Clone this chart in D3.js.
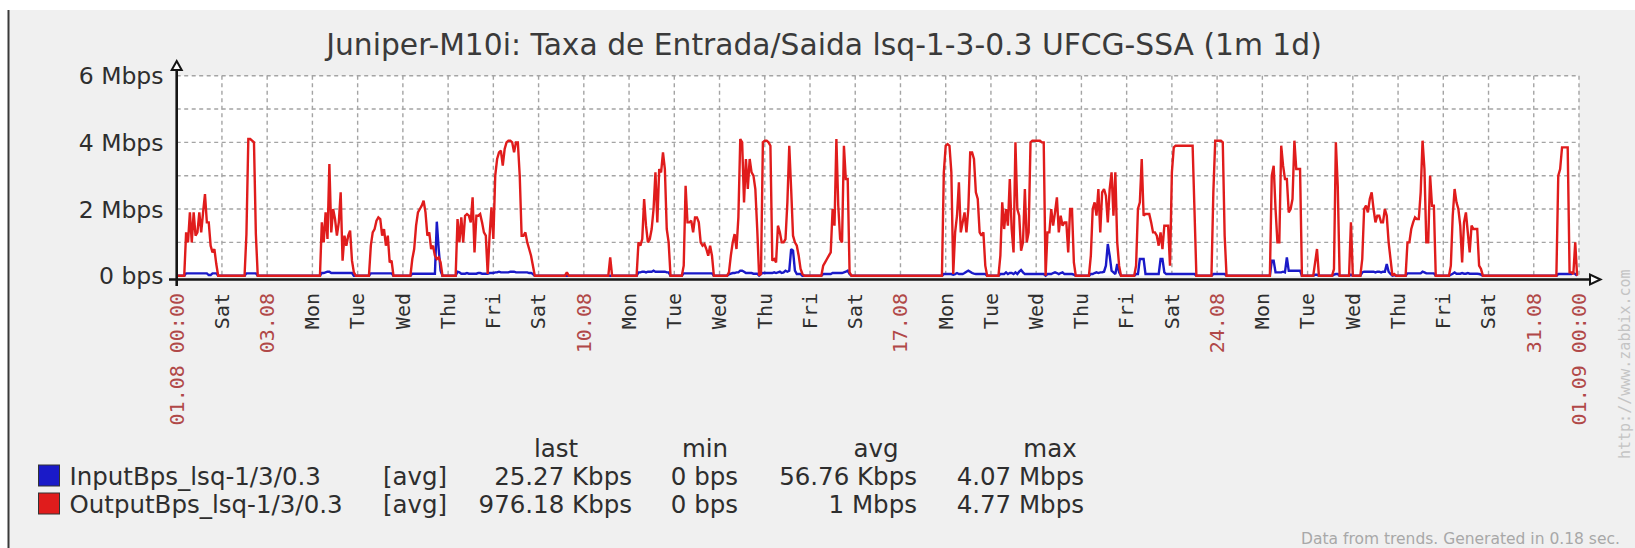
<!DOCTYPE html>
<html><head><meta charset="utf-8">
<script src="https://cdn.jsdelivr.net/npm/d3@7"></script>
<style>body{margin:0;background:#fff;overflow:hidden}svg{display:block}</style>
</head><body><svg id="c" width="1635" height="548"></svg>
<script>
const titleText = "Juniper-M10i: Taxa de Entrada/Saida lsq-1-3-0.3 UFCG-SSA (1m 1d)";
const tickLabels = ["01.08 00:00","Sat","03.08","Mon","Tue","Wed","Thu","Fri","Sat","10.08","Mon","Tue","Wed","Thu","Fri","Sat","17.08","Mon","Tue","Wed","Thu","Fri","Sat","24.08","Mon","Tue","Wed","Thu","Fri","Sat","31.08","01.09 00:00"];
const yTickValues = [0, 2, 4, 6];
const yTickLabels = ["0 bps", "2 Mbps", "4 Mbps", "6 Mbps"];
const seriesNames = ["InputBps_lsq-1/3/0.3", "OutputBps_lsq-1/3/0.3"];
const seriesFunc = ["[avg]", "[avg]"];
const statHeaders = ["last", "min", "avg", "max"];
const statLast = ["25.27 Kbps", "976.18 Kbps"];
const statMin = ["0 bps", "0 bps"];
const statAvg = ["56.76 Kbps", "1 Mbps"];
const statMax = ["4.07 Mbps", "4.77 Mbps"];
const footerText = "Data from trends. Generated in 0.18 sec.";
const watermarkText = "http://www.zabbix.com";

// hourly values in Mbps, one row per day (01.08 .. 31.08)
const outputMbps = [
[0,0,0,0,0,1.3,1.0,1.9,1.0,1.9,1.2,1.3,1.9,1.3,1.9,2.45,1.6,1.6,0.9,0.7,0.8,0.35,0,0],
[0,0,0,0,0,0,0,0,0,0,0,0,0,1.25,4.1,4.1,4.05,4.0,1.25,0,0,0,0,0],
[0,0,0,0,0,0,0,0,0,0,0,0,0,0,0,0,0,0,0,0,0,0,0,0],
[0,0,0,0,0,1.6,1.0,1.9,1.1,3.35,1.3,2.0,1.7,1.2,1.6,2.5,0.45,1.2,0.9,1.2,1.35,0.45,0.1,0],
[0,0,0,0,0,0,0,0.9,1.3,1.4,1.65,1.75,1.7,1.2,1.4,0.9,1.2,0.4,0.45,0,0,0,0,0],
[0,0,0,0,0,0.5,0.8,1.5,1.9,2.0,2.1,2.25,1.9,1.2,1.3,0.8,0.9,0.6,0.5,0.55,0.4,0,0,0],
[0,0,0,0,0,1.7,1.0,1.75,1.0,1.8,1.85,1.8,1.6,2.35,0.7,1.8,1.8,1.85,1.6,1.3,1.2,0.05,1.2,2.05],
[1.1,3.0,3.5,3.7,3.75,3.3,3.8,4.0,4.05,4.05,4.0,3.7,4.0,4.0,3.0,1.2,1.2,1.3,1.0,0.8,0.6,0.3,0,0],
[0,0,0,0,0,0,0,0,0,0,0,0,0,0,0,0.1,0,0,0,0,0,0,0,0],
[0,0,0,0,0,0,0,0,0,0,0,0,0,0,0.55,0,0,0,0,0,0,0,0,0],
[0,0,0,0,0,1.0,0.9,1.1,2.3,1.5,1.0,1.1,1.4,2.0,3.1,1.6,3.2,3.1,3.7,3.2,1.4,1.0,0,0],
[0,0,0,0,0,0.3,2.7,1.6,1.6,1.65,1.3,1.75,1.75,1.6,1.0,0.9,0.95,0.8,0.6,0.9,0.6,0,0,0],
[0,0,0,0,0,0.1,0.6,1.0,1.25,0.8,1.75,4.1,4.0,2.2,3.5,2.6,3.5,3.1,3.0,2.6,1.4,0,0.05,4.0],
[4.05,4.05,4.0,3.9,0.45,0.5,0.4,1.5,1.3,1.0,1.0,1.1,2.2,3.9,2.6,1.2,1.0,0.9,0.6,0.2,0.05,0,0,0],
[0,0,0,0,0,0,0,0.3,0.4,0.5,0.6,0.7,2.0,1.5,4.1,2.1,1.1,1.0,3.9,2.9,2.9,0.1,0,0],
[0,0,0,0,0,0,0,0,0,0,0,0,0,0,0,0,0,0,0,0,0,0,0,0],
[0,0,0,0,0,0,0,0,0,0,0,0,0,0,0,0,0,0,0,0,0,0,0,3.1],
[3.9,3.95,3.9,3.1,0.05,1.3,1.8,2.8,1.3,1.6,1.9,1.3,2.0,3.7,3.7,3.5,2.5,2.3,1.3,1.2,1.3,0.3,0,0],
[0,0,0,0,0,0.6,2.2,1.4,2.0,1.5,2.9,1.4,0.7,4.0,2.0,1.8,0.75,1.0,2.6,1.0,1.3,4.0,4.05,4.05],
[4.05,4.05,4.05,4.0,4.0,0,1.3,1.3,2.0,1.5,1.9,2.35,1.3,1.8,1.5,1.6,1.6,0.7,2.0,2.0,0.4,0,0,0],
[0,0,0,0,0,0.6,2.0,2.2,1.8,2.6,1.3,2.5,2.6,2.4,1.6,2.6,3.1,1.8,3.1,1.0,0.3,0,0,0],
[0,0,0,0,0,0.3,2.0,2.2,3.5,1.8,1.85,1.85,1.85,1.6,1.3,1.3,1.2,0.9,1.3,0.8,1.5,1.5,1.5,0.3],
[3.1,3.85,3.9,3.9,3.9,3.9,3.9,3.9,3.9,3.9,3.9,3.9,1.95,0,0,0,0,0,0,0,0,0,2.5,4.05],
[4.05,4.05,4.05,4.0,1.2,0,0,0,0,0,0,0,0,0,0,0,0,0,0,0,0,0,0,0],
[0,0,0,0,0,3.0,3.3,2.0,1.0,1.0,3.9,3.3,2.9,2.9,1.9,2.0,2.3,4.05,3.2,3.2,3.2,0,0,0],
[0,0,0,0,0.4,0.8,0,0,0,0,0,0,0,0,0.2,4.0,2.7,0,0,0,0,0,0,1.6],
[0,0,0,0,0,0.5,2.0,2.1,1.9,2.3,2.5,2.0,1.6,1.8,1.8,1.6,1.6,2.0,1.8,1.0,0.5,0,0.05,0],
[0,0,0,0,0,1.0,1.0,1.4,1.6,1.75,1.7,1.7,2.5,4.05,3.2,1.0,1.0,3.0,2.1,2.1,0,0,0,0],
[0,0,0,0,0.3,1.8,2.6,2.2,2.0,1.5,0.4,1.6,1.9,1.3,0.7,1.5,1.4,1.4,1.4,0.3,0.2,0,0,0],
[0,0,0,0,0,0,0,0,0,0,0,0,0,0,0,0,0,0,0,0,0,0,0,0],
[0,0,0,0,0,0,0,0,0,0,0,0,0,3.0,3.2,3.85,3.85,3.85,3.85,0.1,0.1,0.05,1.0,0]
];
const inputMbps = [
[0,0,0,0,0,0.07,0.07,0.07,0.07,0.07,0.07,0.07,0.07,0.07,0.07,0.07,0.07,0.02,0.02,0.07,0.07,0.07,0,0],
[0,0,0,0,0,0,0,0,0,0,0,0,0,0.07,0.07,0.07,0.07,0.07,0.07,0,0,0,0,0],
[0,0,0,0,0,0,0,0,0,0,0,0,0,0,0,0,0,0,0,0,0,0,0,0],
[0,0,0,0,0,0.08,0.08,0.1,0.12,0.12,0.08,0.08,0.08,0.08,0.08,0.08,0.08,0.08,0.08,0.08,0.08,0.08,0,0],
[0,0,0,0,0,0,0,0.07,0.07,0.07,0.07,0.07,0.07,0.07,0.07,0.07,0.07,0.07,0.07,0,0,0,0,0],
[0,0,0,0,0,0.06,0.06,0.06,0.06,0.06,0.06,0.06,0.06,0.06,0.06,0.06,0.06,0.06,1.62,0.8,0.15,0,0,0],
[0,0,0,0,0,0.12,0.1,0.06,0.06,0.06,0.08,0.06,0.06,0.06,0.06,0.06,0.08,0.08,0.06,0.06,0.06,0.06,0.08,0.08],
[0.08,0.1,0.1,0.12,0.1,0.1,0.1,0.1,0.1,0.12,0.12,0.12,0.1,0.1,0.1,0.1,0.1,0.1,0.1,0.08,0.08,0.05,0,0],
[0,0,0,0,0,0,0,0,0,0,0,0,0,0,0,0,0,0,0,0,0,0,0,0],
[0,0,0,0,0,0,0,0,0,0,0,0,0,0,0,0,0,0,0,0,0,0,0,0],
[0,0,0,0,0,0.1,0.1,0.12,0.12,0.1,0.12,0.12,0.12,0.15,0.12,0.12,0.12,0.12,0.12,0.12,0.1,0.1,0,0],
[0,0,0,0,0,0.07,0.07,0.07,0.07,0.07,0.07,0.07,0.07,0.07,0.07,0.07,0.07,0.07,0.07,0.07,0.07,0,0,0],
[0,0,0,0,0,0.04,0.06,0.08,0.08,0.1,0.1,0.15,0.15,0.12,0.08,0.08,0.08,0.08,0.06,0.06,0.06,0,0.05,0.08],
[0.08,0.08,0.08,0.08,0.08,0.1,0.08,0.1,0.12,0.08,0.1,0.15,0.12,0.15,0.8,0.75,0.15,0.05,0.05,0.05,0,0,0,0],
[0,0,0,0,0,0,0,0.05,0.05,0.05,0.05,0.05,0.08,0.08,0.08,0.08,0.08,0.08,0.1,0.12,0.15,0.05,0,0],
[0,0,0,0,0,0,0,0,0,0,0,0,0,0,0,0,0,0,0,0,0,0,0,0],
[0,0,0,0,0,0,0,0,0,0,0,0,0,0,0,0,0,0,0,0,0,0,0,0.05],
[0.05,0.05,0.05,0.05,0.03,0.05,0.08,0.05,0.05,0.05,0.08,0.12,0.15,0.12,0.08,0.06,0.05,0.05,0.05,0.05,0.05,0.05,0,0],
[0,0,0,0,0,0.05,0.05,0.05,0.1,0.05,0.08,0.08,0.05,0.1,0.05,0.12,0.17,0.1,0.05,0.05,0.05,0.05,0.05,0.05],
[0.05,0.05,0.05,0.05,0.05,0,0.05,0.05,0.05,0.08,0.1,0.08,0.05,0.08,0.1,0.05,0.05,0.05,0.05,0.05,0.03,0,0,0],
[0,0,0,0,0,0.05,0.05,0.08,0.1,0.08,0.1,0.1,0.12,0.3,0.95,0.6,0.15,0.1,0.05,0.35,0.1,0,0,0],
[0,0,0,0,0,0.05,0.05,0.5,0.5,0.5,0.05,0.05,0.05,0.05,0.05,0.05,0.05,0.05,0.5,0.5,0.1,0.05,0.05,0.05],
[0.05,0.05,0.05,0.05,0.05,0.05,0.05,0.05,0.05,0.05,0.05,0.05,0.05,0,0,0,0,0,0,0,0,0,0.05,0.05],
[0.05,0.05,0.05,0.05,0.05,0,0,0,0,0,0,0,0,0,0,0,0,0,0,0,0,0,0,0],
[0,0,0,0,0,0.45,0.45,0.1,0.1,0.1,0.1,0.12,0.1,0.55,0.15,0.15,0.15,0.15,0.15,0.15,0.15,0,0,0],
[0,0,0,0,0.03,0.03,0,0,0,0,0,0,0,0,0.03,0.05,0.05,0,0,0,0,0,0,0.03],
[0,0,0,0,0,0.1,0.12,0.12,0.12,0.12,0.12,0.12,0.1,0.12,0.12,0.1,0.12,0.12,0.35,0.12,0.05,0,0.02,0],
[0,0,0,0,0,0.07,0.07,0.07,0.07,0.07,0.07,0.07,0.07,0.12,0.1,0.07,0.07,0.07,0.07,0.07,0,0,0,0],
[0,0,0,0,0.03,0.06,0.1,0.06,0.06,0.06,0.08,0.06,0.06,0.08,0.06,0.06,0.06,0.06,0.06,0.05,0.03,0,0,0],
[0,0,0,0,0,0,0,0,0,0,0,0,0,0,0,0,0,0,0,0,0,0,0,0],
[0,0,0,0,0,0,0,0,0,0,0,0,0,0.05,0.05,0.05,0.05,0.05,0.05,0.05,0.05,0.08,0.05,0]
];

const colors = {input: "#1a1ac8", output: "#e01c1c"};
const startMs = Date.UTC(2014, 7, 1), endMs = Date.UTC(2014, 8, 1), HOUR = 3600e3;

const svg = d3.select("#c");
const W = 1635, H = 548;
const X0 = 176.7, X1 = 1579, YB = 275.7, YT = 75.7;
const x = d3.scaleUtc().domain([new Date(startMs), new Date(endMs)]).range([X0, X1]);
const y = d3.scaleLinear().domain([0, 6]).range([YB, YT]);

// background
svg.append("rect").attr("x",0).attr("y",0).attr("width",W).attr("height",H).attr("fill","#fff");
svg.append("rect").attr("x",9).attr("y",10).attr("width",W-9).attr("height",H-10).attr("fill","#f0f0f0");
svg.append("line").attr("x1",8.5).attr("x2",8.5).attr("y1",10).attr("y2",H).attr("stroke","#3a3a3a").attr("stroke-width",2);

// plot area
svg.append("rect").attr("x",X0).attr("y",YT).attr("width",X1-X0).attr("height",YB-YT).attr("fill","#fff");

// grid
const days = x.ticks(d3.utcDay.every(1));
const grid = svg.append("g").attr("stroke","#a4a4a4").attr("stroke-width",1.4).attr("stroke-dasharray","4,3.5");
grid.selectAll("line.v").data(days.slice(1)).join("line")
  .attr("x1",d=>x(d)).attr("x2",d=>x(d)).attr("y1",YT).attr("y2",YB);
grid.selectAll("line.h").data(d3.range(1,7)).join("line")
  .attr("x1",X0).attr("x2",X1).attr("y1",d=>y(d)).attr("y2",d=>y(d));

// series
const toPoints = rows => rows.flat().map((v,i)=>({t:new Date(startMs + i*HOUR), v}));
const line = d3.line().x(d=>x(d.t)).y(d=>y(d.v));
svg.append("clipPath").attr("id","pc").append("rect")
  .attr("x",X0).attr("y",YT-4).attr("width",X1-X0).attr("height",YB-YT+6);
const gs = svg.append("g").attr("clip-path","url(#pc)").attr("fill","none")
  .attr("stroke-linejoin","miter").attr("stroke-miterlimit",2);
gs.append("path").datum(toPoints(inputMbps)).attr("d",line)
  .attr("stroke",colors.input).attr("stroke-width",2.4);
gs.append("path").datum(toPoints(outputMbps)).attr("d",line)
  .attr("stroke",colors.output).attr("stroke-width",2.4);

// axes
const ax = svg.append("g").attr("stroke","#151515");
ax.append("line").attr("x1",X0).attr("x2",X0).attr("y1",69).attr("y2",286).attr("stroke-width",2.6);
ax.append("line").attr("x1",169).attr("x2",1590).attr("y1",279.5).attr("y2",279.5).attr("stroke-width",2.6);
ax.append("path").attr("d",`M${X0},61 L${X0+5},70 L${X0-5},70 Z`).attr("fill","#fff").attr("stroke-width",2);
ax.append("path").attr("d",`M1600.5,279.5 L1590,274.5 L1590,284.5 Z`).attr("fill","#fff").attr("stroke-width",2);

// y labels
svg.append("g").selectAll("text").data(yTickValues).join("text")
  .attr("x",163.5).attr("y",d=>y(d)+8.6).attr("text-anchor","end")
  .attr("font-family","DejaVu Sans").attr("font-size",23.5).attr("fill","#2e2e2e")
  .text((d,i)=>yTickLabels[i]);

// x labels
svg.append("g").selectAll("text").data(days).join("text")
  .attr("transform",d=>`translate(${x(d)+6.8},293) rotate(-90)`)
  .attr("text-anchor","end")
  .attr("font-family","DejaVu Sans Mono").attr("font-size",20)
  .attr("fill",(d,i)=>tickLabels[i].includes(".") ? "#b04848" : "#2e2e2e")
  .text((d,i)=>tickLabels[i]);

// title
const tt = svg.append("text").attr("x",824).attr("y",55).attr("text-anchor","middle")
  .attr("font-family","DejaVu Sans").attr("font-size",26).attr("fill","#3a3a3a").text(titleText);
const tw = tt.node().getComputedTextLength();
tt.attr("font-size", 26*996/tw);

// legend
const lg = svg.append("g").attr("font-family","DejaVu Sans").attr("font-size",24.5).attr("fill","#2e2e2e");
const rowsY = [485, 513];
const headX = [556, 705, 876, 1050];
lg.selectAll("text.h").data(statHeaders).join("text").attr("x",(d,i)=>headX[i]).attr("y",457)
  .attr("text-anchor","middle").text(d=>d);
const sc = [colors.input, colors.output];
seriesNames.forEach((nm,i)=>{
  lg.append("rect").attr("x",38.5).attr("y",rowsY[i]-20).attr("width",21).attr("height",21)
    .attr("fill",sc[i]).attr("stroke","#333").attr("stroke-width",1);
  lg.append("text").attr("x",69.5).attr("y",rowsY[i]).text(nm);
  lg.append("text").attr("x",383).attr("y",rowsY[i]).text(seriesFunc[i]);
  [[statLast,632],[statMin,738],[statAvg,917],[statMax,1084]].forEach(([arr,rx])=>{
    lg.append("text").attr("x",rx).attr("y",rowsY[i]).attr("text-anchor","end").text(arr[i]);
  });
});

// watermark & footer
svg.append("text").attr("transform","translate(1630,459) rotate(-90)")
  .attr("font-family","DejaVu Sans Mono").attr("font-size",15).attr("fill","#c4c4c4").text(watermarkText);
svg.append("text").attr("x",1301).attr("y",544).attr("font-family","DejaVu Sans").attr("font-size",15.5)
  .attr("fill","#a8a8a8").text(footerText);
</script></body></html>
